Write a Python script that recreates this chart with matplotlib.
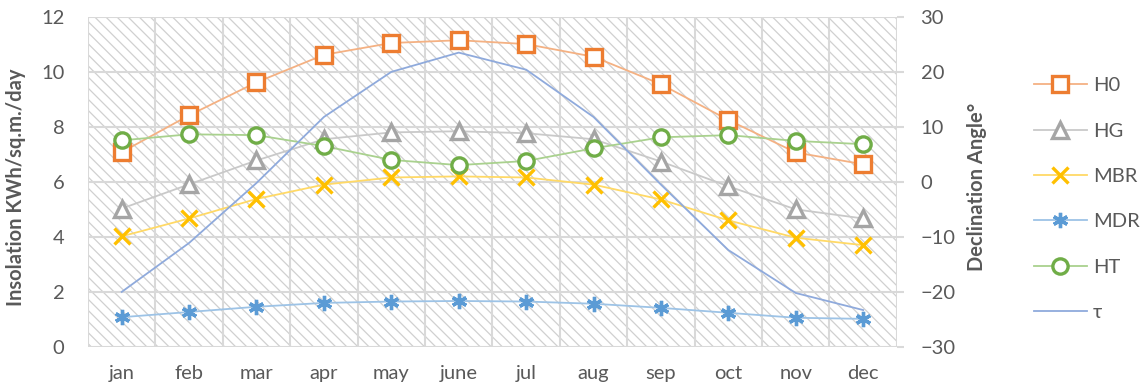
import matplotlib
matplotlib.use("Agg")
import matplotlib.pyplot as plt
from matplotlib.patches import Rectangle
from matplotlib.lines import Line2D
import numpy as np

plt.rcParams["font.family"] = ["Lato", "DejaVu Sans"]
plt.rcParams["hatch.linewidth"] = 0.9

months = ["jan", "feb", "mar", "apr", "may", "june", "jul", "aug", "sep", "oct", "nov", "dec"]
h0 = [7.08, 8.42, 9.62, 10.62, 11.05, 11.15, 11.01, 10.55, 9.55, 8.25, 7.07, 6.64]
hg = [5.03, 5.91, 6.78, 7.55, 7.8, 7.84, 7.77, 7.55, 6.74, 5.84, 5.0, 4.67]
mbr = [4.02, 4.67, 5.38, 5.9, 6.16, 6.2, 6.16, 5.9, 5.36, 4.6, 3.97, 3.7]
mdr = [1.08, 1.27, 1.46, 1.6, 1.65, 1.67, 1.65, 1.57, 1.42, 1.24, 1.06, 1.02]
ht = [7.51, 7.73, 7.7, 7.3, 6.8, 6.61, 6.76, 7.22, 7.62, 7.7, 7.49, 7.37]
tau = [-20.0, -11.1, -0.2, 11.8, 20.0, 23.5, 20.4, 11.8, -0.5, -12.4, -20.2, -23.3]

txt = "#595959"
grid = "#d9d9d9"
fs = 14.5

fig = plt.figure(figsize=(11.44, 3.92), dpi=100)
ax = fig.add_axes([0.0769, 0.115, 0.7071, 0.842])
ax2 = ax.twinx()

x = np.arange(len(months))

# hatched plot area
ax.add_patch(Rectangle((0, 0), 1, 1, transform=ax.transAxes, facecolor="white",
                       edgecolor="#d0d0d0", hatch="\\\\\\", lw=0, zorder=0))
for k in range(0, 14, 2):
    ax.axhline(k, color=grid, lw=1.5, zorder=1)
for k in range(len(months) + 1):
    ax.axvline(k - 0.5, color=grid, lw=1.5, zorder=1)

series = [
    (h0, "H0", "s", "#ED7D31", "#F4B183"),
    (hg, "HG", "^", "#A5A5A5", "#C9C9C9"),
    (mbr, "MBR", "x", "#FFC000", "#FFD966"),
    (mdr, "MDR", (6, 2, 0), "#5B9BD5", "#9DC3E6"),
    (ht, "HT", "o", "#70AD47", "#A9D18E"),
]
handles = []
for vals, name, mk, c, lc in series:
    y2 = np.array(vals) * 5 - 30  # left axis 0..12 -> right axis -30..30
    filled = mk == "x" or isinstance(mk, tuple)
    style = dict(marker=mk, ms=11, mfc=c if filled else "white", mec=c, mew=2.4)
    ax2.plot(x, y2, color=lc, lw=1.3, zorder=2)
    ax2.plot(x, y2, ls="none", zorder=3, **style)
    handles.append(Line2D([], [], color=lc, lw=1.3, label=name, **style))

ax2.plot(x, tau, color="#8FAADC", lw=1.3, zorder=4)
handles.append(Line2D([], [], color="#8FAADC", lw=1.3, label="τ"))

ax.set_xlim(-0.5, len(months) - 0.5)
ax.set_ylim(0, 12)
ax.set_yticks(range(0, 14, 2))
ax2.set_ylim(-30, 30)
ax2.set_yticks(range(-30, 40, 10))
ax.set_xticks(x)
ax.set_xticklabels(months)

for a in (ax, ax2):
    for s in a.spines.values():
        s.set_visible(False)
ax.tick_params(axis="y", length=0, labelsize=fs, colors=txt, pad=17)
ax.tick_params(axis="x", length=0, labelsize=fs, colors=txt, pad=13)
ax2.tick_params(axis="y", length=5, color=grid, width=1.5, labelsize=fs, colors=txt, pad=12)

ax.set_ylabel("Insolation KWh/sq.m./day", fontsize=fs, fontweight="bold", color=txt)
ax.yaxis.set_label_coords(-0.076, 0.485)
ax2.set_ylabel("Declination Angle°", fontsize=fs, fontweight="bold", color=txt)
ax2.yaxis.set_label_coords(1.087, 0.485)

fig.legend(handles=handles, loc="center left", bbox_to_anchor=(0.897, 0.492), frameon=False,
           fontsize=fs, labelcolor=txt, handlelength=2.6, labelspacing=1.4, handletextpad=0.3,
           borderaxespad=0)

fig.savefig("out.png", dpi=100)
